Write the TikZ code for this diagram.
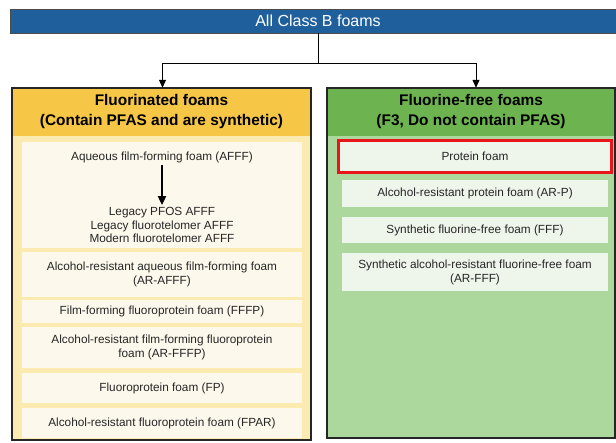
\documentclass[tikz,border=0pt]{standalone}
\usepackage{fontspec}
\setmainfont{Liberation Sans}
\usetikzlibrary{arrows.meta}
\definecolor{classblue}{HTML}{1F5F9C}
\definecolor{goldhead}{HTML}{F6C646}
\definecolor{goldbody}{HTML}{FBEBB0}
\definecolor{goldcell}{HTML}{FCF8EC}
\definecolor{greenhead}{HTML}{6DB450}
\definecolor{greenbody}{HTML}{ADD89D}
\definecolor{greencell}{HTML}{EEF5EB}
\definecolor{markred}{HTML}{E8161B}

\begin{document}
\begin{tikzpicture}[x=1pt, y=-1pt,
    headbox/.style={minimum height=48pt, inner sep=0pt, align=center,
      font=\fontsize{15.4}{20}\selectfont\bfseries},
    cellbox/.style={inner sep=0pt, align=center, text=black!85,
      font=\fontsize{11.8}{14}\selectfont},
    goldcellbox/.style={cellbox, fill=goldcell, minimum width=280pt},
    greencellbox/.style={cellbox, fill=greencell, minimum width=266pt},
    celltext/.style={inner sep=2pt, align=center, text=black!85,
      font=\fontsize{11.8}{13.5}\selectfont},
    link/.style={line width=1pt, -{Triangle[length=8pt,width=7pt]}}]
    %%%%% START %%%%%
    \useasboundingbox (0,0) rectangle (616,442);

    % top bar
    \draw[fill=classblue, draw=black!70, line width=1pt] (10,9) rectangle (617,33);
    \node[minimum height=24pt, inner sep=0pt, text=white,
      font=\fontsize{16}{18}\selectfont] (all) at (318,21) {All Class B foams};

    % fluorinated panel
    \fill[goldbody] (12,88) rectangle (311,440);
    \node[headbox, fill=goldhead, minimum width=299pt] (fluor) at (161.5,112)
      {Fluorinated foams\\(Contain PFAS and are synthetic)};

    \node[goldcellbox, minimum height=106pt] (afffcell) at (162,195) {};
    \node[celltext] (afff) at (162,157) {Aqueous film-forming foam (AFFF)};
    \node[celltext] (afffkinds) at (162,225)
      {Legacy PFOS AFFF\\Legacy fluorotelomer AFFF\\Modern fluorotelomer AFFF};
    \draw[line width=1.8pt, -{Triangle[length=9pt,width=8pt]}] (afff) -- (afffkinds);

    \node[goldcellbox, minimum height=45pt] (arafff) at (162,274.5)
      {Alcohol-resistant aqueous film-forming foam\\(AR-AFFF)};
    \node[goldcellbox, minimum height=23pt] (fffp) at (162,311.5)
      {Film-forming fluoroprotein foam (FFFP)};
    \node[goldcellbox, minimum height=41pt] (arfffp) at (162,347.5)
      {Alcohol-resistant film-forming fluoroprotein\\foam (AR-FFFP)};
    \node[goldcellbox, minimum height=30pt] (fp) at (162,388)
      {Fluoroprotein foam (FP)};
    \node[goldcellbox, minimum height=30pt] (fpar) at (162,423)
      {Alcohol-resistant fluoroprotein foam (FPAR)};
    \draw[black!85, line width=1.2pt] (12,88) rectangle (311,440);

    % fluorine-free panel
    \fill[greenbody] (327,88) rectangle (615,438);
    \node[headbox, fill=greenhead, minimum width=288pt] (fluorfree) at (471,112)
      {Fluorine-free foams\\(F3, Do not contain PFAS)};

    \node[greencellbox, draw=markred, line width=3pt, minimum width=273pt,
      minimum height=32pt] (protein) at (475,156.5) {Protein foam};
    \node[greencellbox, minimum height=27pt] (arp) at (475,193.5)
      {Alcohol-resistant protein foam (AR-P)};
    \node[greencellbox, minimum height=26pt] (fff) at (475,230)
      {Synthetic fluorine-free foam (FFF)};
    \node[greencellbox, minimum height=38pt] (arfff) at (475,272)
      {Synthetic alcohol-resistant fluorine-free foam\\(AR-FFF)};
    \draw[black!85, line width=1.2pt] (327,88) rectangle (615,438);

    % connectors
    \draw[line width=1pt] (all.south) -- ++(0,30) coordinate (split);
    \draw[link] (split) -| ([xshift=1pt]fluor.north);
    \draw[link] (split) -| ([xshift=5pt]fluorfree.north);
    %%%%% END %%%%%
\end{tikzpicture}
\end{document}
